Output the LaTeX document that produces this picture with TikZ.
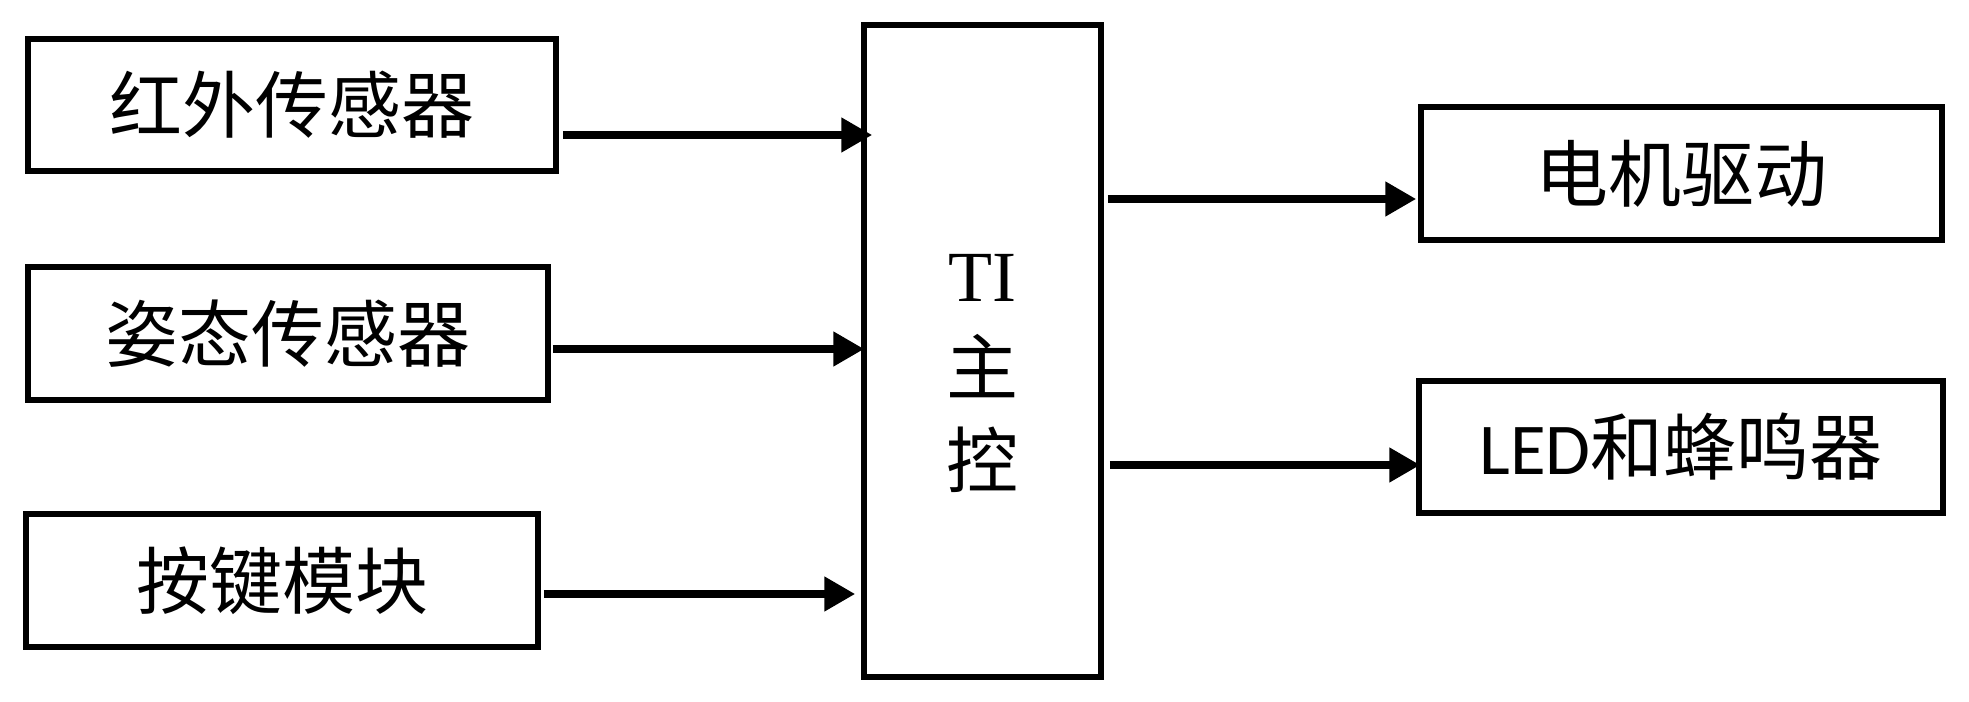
\documentclass[tikz,border=0pt]{standalone}
\usepackage{fontspec}
\setmainfont{Liberation Serif}
\newfontfamily\cjk{Noto Sans CJK SC}
\newfontfamily\calib{Carlito}
\usetikzlibrary{arrows.meta,calc}
\begin{document}
\begin{tikzpicture}[x=1pt,y=1pt,
  box/.style={draw,line width=5.5pt,inner sep=0pt,font=\cjk\fontsize{73}{80}\selectfont},
  arr/.style={line width=8pt,-{Triangle[length=31pt,width=33pt]}}]
\useasboundingbox (0,0) rectangle (1969,701);
\node[box,minimum width=528pt,minimum height=132pt] (ir) at (292,596) {红外传感器};
\node[box,minimum width=520pt,minimum height=133pt] (att) at (288,367.5) {姿态传感器};
\node[box,minimum width=512pt,minimum height=133pt] (key) at (282,120.5) {按键模块};
\node[box,minimum width=237pt,minimum height=652pt] (main) at (982.5,350) {};
\node[align=center,inner sep=0pt,font=\cjk\fontsize{72}{93}\selectfont] (maintext) at (982.5,327)
  {{\rmfamily TI}\\主\\控};
\node[box,minimum width=521pt,minimum height=133pt] (mot) at (1681.5,527.5) {电机驱动};
\node[box,minimum width=524pt,minimum height=132pt] (led) at (1681,254) {{\calib LED}和蜂鸣器};
\draw[arr] ($(ir.east)+(4,-30)$) -- ($(ir.east -| main.west)+(11,-30)$);
\draw[arr] ($(att.east)+(2,-15.5)$) -- ($(att.east -| main.west)+(3,-15.5)$);
\draw[arr] ($(key.east)+(3,-13.5)$) -- ($(key.east -| main.west)+(-6,-13.5)$);
\draw[arr] ($(mot.west -| main.east)+(4,-25.5)$) -- ($(mot.west)+(-2,-25.5)$);
\draw[arr] ($(led.west -| main.east)+(6,-18)$) -- ($(led.west)+(4,-18)$);
\end{tikzpicture}
\end{document}
